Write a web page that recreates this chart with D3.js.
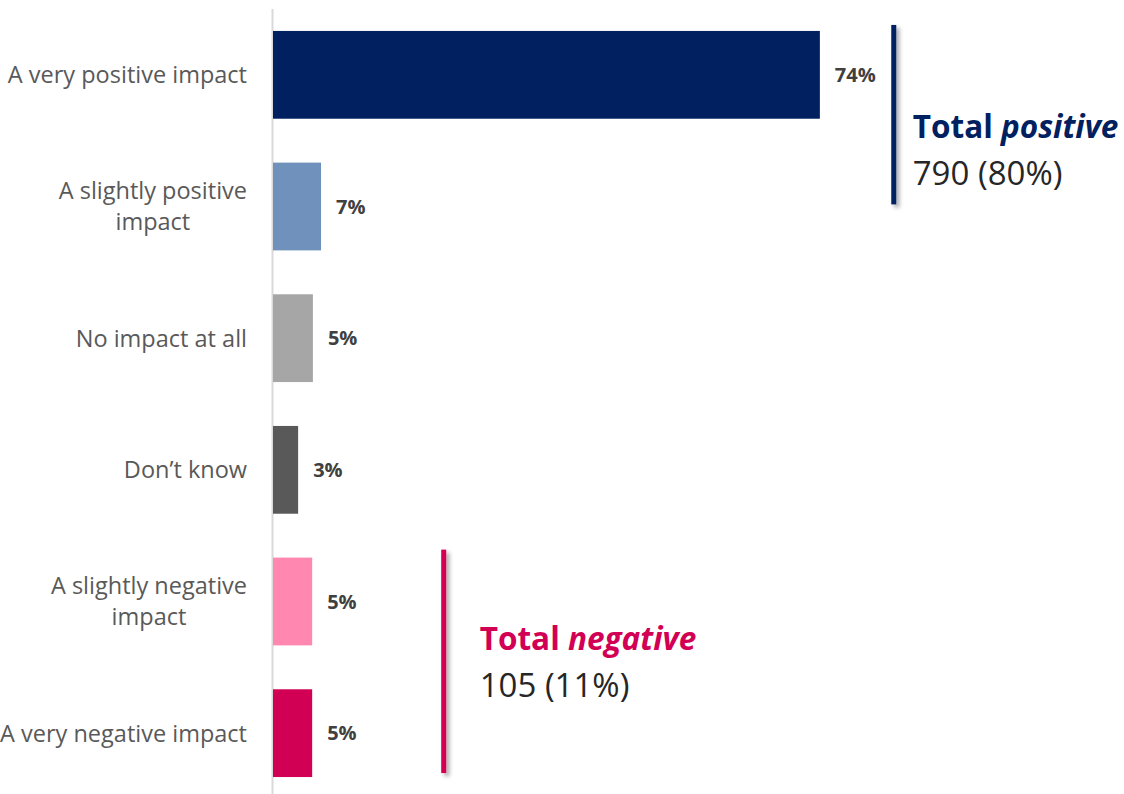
<!DOCTYPE html>
<html>
<head>
<meta charset="utf-8">
<script src="https://cdn.jsdelivr.net/npm/d3@7"></script>
<style>
  html, body { margin: 0; padding: 0; background: #ffffff; }
  svg { display: block; }
  text { font-family: "Open Sans", "Noto Sans", Lato, sans-serif; }
</style>
</head>
<body>
<svg id="chart" width="1124" height="794"></svg>
<script>
// ---- Data ----
const categories = [
  "A very positive impact",
  "A slightly positive impact",
  "No impact at all",
  "Don’t know",
  "A slightly negative impact",
  "A very negative impact"
];
const categoryLines = [
  ["A very positive impact"],
  ["A slightly positive", "impact"],
  ["No impact at all"],
  ["Don’t know"],
  ["A slightly negative", "impact"],
  ["A very negative impact"]
];
const values = [74, 6.5, 5.4, 3.4, 5.3, 5.3];
const barColors = ["#002060", "#6F91BB", "#A6A6A6", "#595959", "#FF87B0", "#D20055"];

const totalNames = ["positive", "negative"];
const totalCounts = [790, 105];
const totalPercents = [80, 11];
const totalColors = ["#002060", "#D20055"];
const totalFirstCategory = [0, 4];
const totalLastCategory = [1, 5];

// ---- Setup ----
const W = 1124, H = 794;
const svg = d3.select("#chart");

const defs = svg.append("defs");
const f = defs.append("filter").attr("id", "shadow")
  .attr("filterUnits", "userSpaceOnUse")
  .attr("x", 0).attr("y", 0).attr("width", W).attr("height", H);
f.append("feDropShadow").attr("dx", 3).attr("dy", 3).attr("stdDeviation", 2)
  .attr("flood-color", "#000").attr("flood-opacity", 0.35);

const x = d3.scaleLinear().domain([0, 100]).range([273, 1012]);
const y = d3.scaleBand().domain(categories).range([9, 799])
  .paddingInner(1 / 3).paddingOuter(1 / 6);

// Axis line (category axis, no ticks)
const yAxis = d3.axisLeft(y).tickSize(0).tickFormat("");
const gAxis = svg.append("g").attr("transform", `translate(${x(0) - 0.5},0)`).call(yAxis);
gAxis.select(".domain").attr("stroke", "#D9D9D9").attr("stroke-width", 2)
  .attr("d", `M0,9V${H}`);

// Bars
svg.append("g").selectAll("rect").data(categories).join("rect")
  .attr("x", x(0))
  .attr("y", d => y(d))
  .attr("width", (d, i) => x(values[i]) - x(0))
  .attr("height", y.bandwidth())
  .attr("fill", (d, i) => barColors[i]);

// Value labels
svg.append("g").selectAll("text").data(categories).join("text")
  .attr("x", (d, i) => x(values[i]) + 15)
  .attr("y", d => y(d) + y.bandwidth() / 2)
  .attr("dy", "0.36em")
  .attr("font-size", 20)
  .attr("font-weight", 700)
  .attr("fill", "#404040")
  .text((d, i) => Math.round(values[i]) + "%");

// Category labels (centered block, right-aligned to x = 247)
const catFont = 23.5;
const lineH = 31;
const labelRight = 247;
const gCat = svg.append("g");
categories.forEach((c, i) => {
  const lines = categoryLines[i];
  const cy = y(c) + y.bandwidth() / 2;
  const t = gCat.append("text")
    .attr("font-size", catFont)
    .attr("fill", "#595959")
    .attr("text-anchor", "middle");
  const spans = lines.map((ln, j) =>
    t.append("tspan")
      .attr("y", cy + (j - (lines.length - 1) / 2) * lineH)
      .attr("dy", "0.36em")
      .text(ln));
  const maxW = d3.max(spans, s => s.node().getComputedTextLength());
  spans.forEach(s => s.attr("x", labelRight - maxW / 2));
});

// Total annotations
const lineX = [84, 23.1];
const textGap = [19, 36];
totalNames.forEach((name, k) => {
  const top = y(categories[totalFirstCategory[k]]);
  const bot = y(categories[totalLastCategory[k]]) + y.bandwidth();
  const y1 = k === 0 ? top - 6 : top - 8;
  const y2 = k === 0 ? bot - 46 : bot - 4;
  const lx = x(lineX[k]);
  svg.append("rect")
    .attr("x", lx - 2.5).attr("width", 5)
    .attr("y", y1).attr("height", y2 - y1)
    .attr("fill", totalColors[k])
    .attr("filter", "url(#shadow)");
  const mid = (y1 + y2) / 2;
  const tx = lx + textGap[k];
  const base1 = k === 0 ? mid + 23.5 : mid - 11.5;
  const t1 = svg.append("text")
    .attr("x", tx).attr("y", base1)
    .attr("font-size", 31.5).attr("font-weight", 700)
    .attr("fill", totalColors[k]);
  t1.append("tspan").text("Total ");
  t1.append("tspan").attr("font-style", "italic").text(name);
  svg.append("text")
    .attr("x", tx).attr("y", base1 + 47)
    .attr("font-size", 33)
    .attr("fill", "#262626")
    .text(`${totalCounts[k]} (${totalPercents[k]}%)`);
});
</script>
</body>
</html>
